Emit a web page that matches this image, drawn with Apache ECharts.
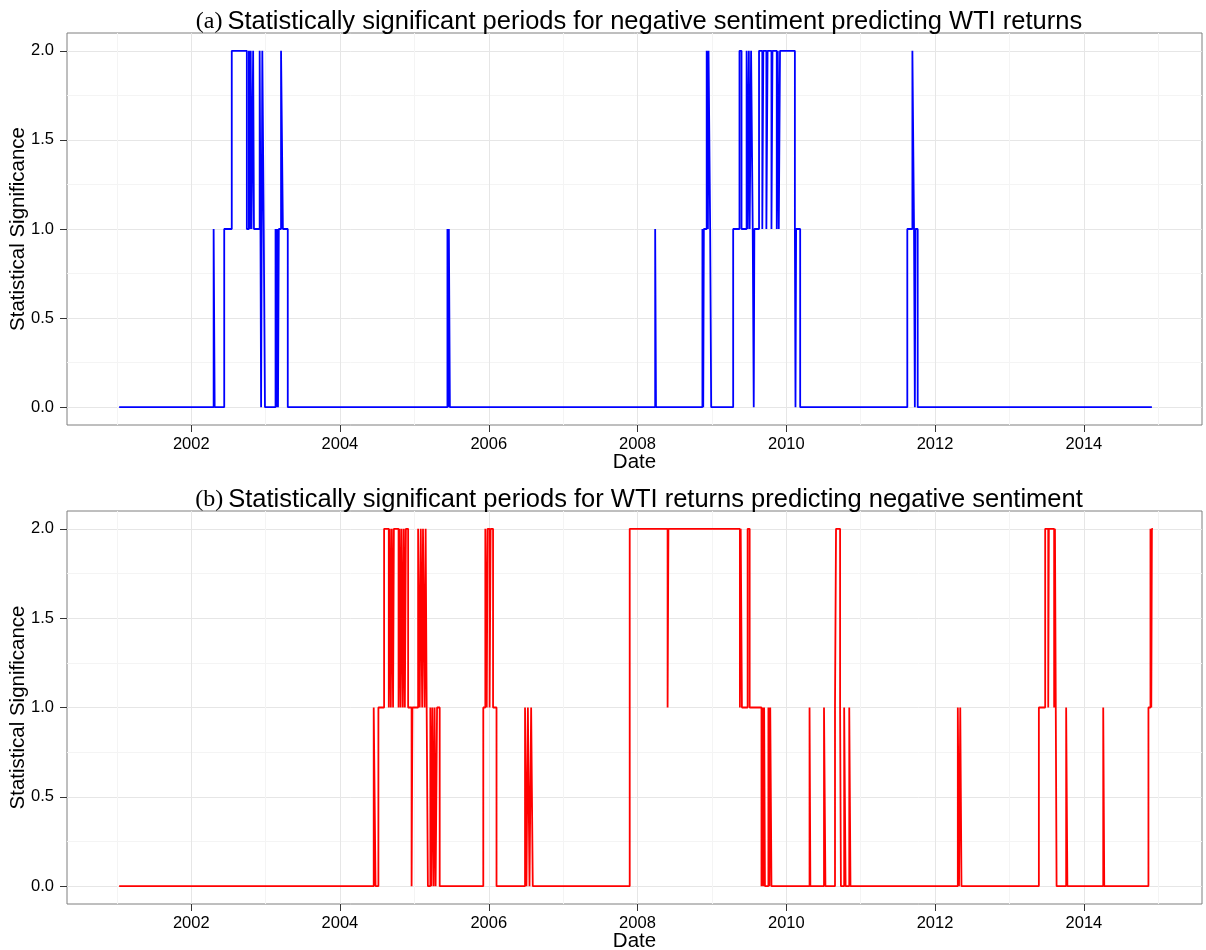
<!DOCTYPE html>
<html>
<head>
<meta charset="utf-8">
<script src="https://cdn.jsdelivr.net/npm/echarts@6/dist/echarts.min.js"></script>
<style>
  html, body { margin: 0; padding: 0; background: #fff; }
  #chart { width: 1206px; height: 950px; }
</style>
</head>
<body>
<div id="chart"></div>
<script>
// step changes: value holds from each date until the next one
const blueDates = [
  "2001-01-12", "2002-04-21", "2002-04-26", "2002-06-12", "2002-07-19", "2002-10-01",
  "2002-10-11", "2002-10-15", "2002-10-20", "2002-10-24", "2002-11-01", "2002-11-05",
  "2002-12-03", "2002-12-07", "2002-12-10", "2002-12-13", "2002-12-16", "2002-12-23",
  "2002-12-29", "2003-02-19", "2003-02-23", "2003-02-27", "2003-03-03", "2003-03-07",
  "2003-03-18", "2003-03-27", "2003-04-20", "2005-06-12", "2005-06-16", "2005-06-19",
  "2005-06-24", "2008-03-28", "2008-04-01", "2008-11-15", "2008-11-19", "2008-11-22",
  "2008-12-06", "2008-12-12", "2008-12-15", "2008-12-23", "2008-12-28", "2009-04-15",
  "2009-05-16", "2009-05-26", "2009-06-20", "2009-06-25", "2009-07-01", "2009-07-05",
  "2009-07-12", "2009-07-20", "2009-07-25", "2009-07-28", "2009-08-20", "2009-09-05",
  "2009-09-10", "2009-09-25", "2009-10-01", "2009-10-20", "2009-10-25", "2009-11-15",
  "2009-11-20", "2009-11-25", "2009-12-01", "2010-02-12", "2010-02-15", "2010-02-18",
  "2010-03-10", "2011-08-18", "2011-09-12", "2011-09-20", "2011-09-24", "2011-09-27",
  "2011-10-08", "2014-12-01"
];
const blueValues = [
  0, 1, 0, 1, 2, 1,
  2, 1, 2, 1, 2, 1,
  2, 1, 0, 1, 2, 1,
  0, 1, 0, 1, 0, 1,
  2, 1, 0, 1, 0, 1,
  0, 1, 0, 1, 0, 1,
  2, 1, 2, 1, 0, 1,
  2, 1, 2, 1, 2, 1,
  2, 1, 0, 1, 2, 1,
  2, 1, 2, 1, 2, 1,
  2, 1, 2, 1, 0, 1,
  0, 1, 2, 1, 0, 1,
  0, 0
];

const redDates = [
  "2001-01-12", "2004-06-15", "2004-06-24", "2004-07-08", "2004-08-05", "2004-08-28",
  "2004-09-02", "2004-09-07", "2004-09-12", "2004-09-18", "2004-09-22", "2004-10-15",
  "2004-10-20", "2004-10-25", "2004-10-30", "2004-11-05", "2004-11-10", "2004-11-15",
  "2004-11-20", "2004-12-01", "2004-12-18", "2004-12-22", "2005-01-19", "2005-01-27",
  "2005-02-01", "2005-02-08", "2005-02-12", "2005-02-20", "2005-02-25", "2005-03-02",
  "2005-03-08", "2005-03-20", "2005-03-25", "2005-03-30", "2005-04-05", "2005-04-10",
  "2005-04-15", "2005-04-22", "2005-05-05", "2005-12-05", "2005-12-15", "2005-12-22",
  "2005-12-26", "2006-01-05", "2006-01-10", "2006-01-22", "2006-02-08", "2006-06-28",
  "2006-07-05", "2006-07-12", "2006-07-20", "2006-07-28", "2006-08-05", "2007-11-24",
  "2008-05-28", "2008-06-01", "2009-05-18", "2009-05-22", "2009-05-28", "2009-06-25",
  "2009-07-05", "2009-09-01", "2009-09-05", "2009-09-10", "2009-09-14", "2009-09-18",
  "2009-10-05", "2009-10-10", "2009-10-14", "2009-10-20", "2010-04-25", "2010-04-29",
  "2010-07-05", "2010-07-12", "2010-08-28", "2010-09-02", "2010-09-22", "2010-09-26",
  "2010-10-12", "2010-10-19", "2010-11-06", "2010-11-12", "2012-04-22", "2012-04-28",
  "2012-05-04", "2012-05-10", "2013-05-25", "2013-06-25", "2013-07-10", "2013-07-13",
  "2013-08-08", "2013-08-12", "2013-08-16", "2013-08-20", "2013-10-06", "2013-10-12",
  "2014-04-06", "2014-04-11", "2014-11-14", "2014-11-24", "2014-11-28", "2014-12-01",
  "2014-12-06"
];
const redValues = [
  0, 1, 0, 1, 2, 1,
  2, 1, 2, 1, 2, 1,
  2, 1, 2, 1, 2, 1,
  2, 1, 0, 1, 2, 1,
  2, 1, 2, 1, 2, 1,
  0, 1, 0, 1, 0, 1,
  0, 1, 0, 1, 2, 1,
  2, 1, 2, 1, 0, 1,
  0, 1, 0, 1, 0, 2,
  1, 2, 1, 2, 1, 2,
  1, 0, 1, 0, 1, 0,
  1, 0, 1, 0, 1, 0,
  1, 0, 1, 2, 1, 0,
  1, 0, 1, 0, 1, 0,
  1, 0, 1, 2, 1, 2,
  1, 2, 1, 0, 1, 0,
  1, 0, 1, 2, 1, 2,
  2
];

const yearTicks = ["2002-01-01", "2004-01-01", "2006-01-01", "2008-01-01", "2010-01-01", "2012-01-01", "2014-01-01"];
const yearMinor = ["2001-01-01", "2003-01-01", "2005-01-01", "2007-01-01", "2009-01-01", "2011-01-01", "2013-01-01", "2015-01-01"];
const yTicks = [0, 0.5, 1, 1.5, 2];
const yMinor = [0.25, 0.75, 1.25, 1.75];

const titleA = "Statistically significant periods for negative sentiment predicting WTI returns";
const titleB = "Statistically significant periods for WTI returns predicting negative sentiment";

const FONT = "Liberation Sans";
const ms = (d) => Date.parse(d + "T00:00:00Z");
const xMin = ms("2000-05-01");
const xMax = ms("2015-08-04");

function xAxes(gridIndex) {
  return [
    {
      type: "value", gridIndex, min: xMin, max: xMax,
      axisLine: { show: false, onZero: false },
      axisTick: { show: true, length: 7, customValues: yearTicks.map(ms), lineStyle: { color: "#333", width: 1 } },
      axisLabel: {
        customValues: yearTicks.map(ms), margin: 11, color: "#000", fontSize: 16.5, fontFamily: FONT,
        formatter: (v) => String(new Date(v).getUTCFullYear()),
      },
      splitLine: { show: true, lineStyle: { color: "#e6e6e6", width: 1 } },
      name: "Date", nameLocation: "middle", nameGap: 27, nameMoveOverlap: false,
      nameTextStyle: { color: "#000", fontSize: 20.5, fontFamily: FONT },
    },
    {
      type: "value", gridIndex, min: xMin, max: xMax,
      axisLine: { show: false, onZero: false },
      axisTick: { show: false, customValues: yearMinor.map(ms) },
      axisLabel: { show: false, customValues: yearMinor.map(ms) },
      splitLine: { show: true, lineStyle: { color: "#f4f4f4", width: 1 } },
    },
  ];
}

function yAxes(gridIndex) {
  return [
    {
      type: "value", gridIndex, min: -0.1, max: 2.1,
      axisLine: { show: false, onZero: false },
      axisTick: { show: true, length: 7, customValues: yTicks, lineStyle: { color: "#333", width: 1 } },
      axisLabel: {
        customValues: yTicks, margin: 13, color: "#000", fontSize: 16.5, fontFamily: FONT,
        formatter: (v) => v.toFixed(1),
      },
      splitLine: { show: true, lineStyle: { color: "#e6e6e6", width: 1 } },
      name: "Statistical Significance", nameLocation: "middle", nameGap: 38, nameMoveOverlap: false,
      nameTextStyle: { color: "#000", fontSize: 20.5, fontFamily: FONT },
    },
    {
      type: "value", gridIndex, min: -0.1, max: 2.1,
      axisLine: { show: false, onZero: false },
      axisTick: { show: false, customValues: yMinor },
      axisLabel: { show: false, customValues: yMinor },
      splitLine: { show: true, lineStyle: { color: "#f4f4f4", width: 1 } },
    },
  ];
}

function makeTitle(tag, text, top) {
  return {
    text: "{t|" + tag + "} {m|" + text + "}",
    left: 634, top, textAlign: "center",
    textStyle: {
      fontWeight: "normal",
      rich: {
        t: { fontFamily: "Liberation Serif", fontSize: 24, fontWeight: "normal", color: "#000" },
        m: { fontFamily: FONT, fontSize: 25.5, fontWeight: "normal", color: "#000" },
      },
    },
  };
}

const myChart = echarts.init(document.getElementById("chart"), null, { renderer: "canvas" });

const option = {
  animation: false,
  backgroundColor: "#fff",
  title: [makeTitle("(a)", titleA, 4), makeTitle("(b)", titleB, 482)],
  grid: [
    { left: 67, top: 33, width: 1135, height: 392, outerBoundsMode: "none", show: true, borderColor: "#7f7f7f", borderWidth: 1, backgroundColor: "#fff" },
    { left: 67, top: 511, width: 1135, height: 393, outerBoundsMode: "none", show: true, borderColor: "#7f7f7f", borderWidth: 1, backgroundColor: "#fff" },
  ],
  xAxis: [...xAxes(0), ...xAxes(1)],
  yAxis: [...yAxes(0), ...yAxes(1)],
  series: [
    {
      type: "line", step: "end", xAxisIndex: 0, yAxisIndex: 0, symbol: "none",
      lineStyle: { color: "#0000ff", width: 1.8 },
      data: blueDates.map((d, i) => [ms(d), blueValues[i]]),
    },
    {
      type: "line", step: "end", xAxisIndex: 2, yAxisIndex: 2, symbol: "none",
      lineStyle: { color: "#ff0000", width: 1.8 },
      data: redDates.map((d, i) => [ms(d), redValues[i]]),
    },
  ],
};

option && myChart.setOption(option);
</script>
</body>
</html>
